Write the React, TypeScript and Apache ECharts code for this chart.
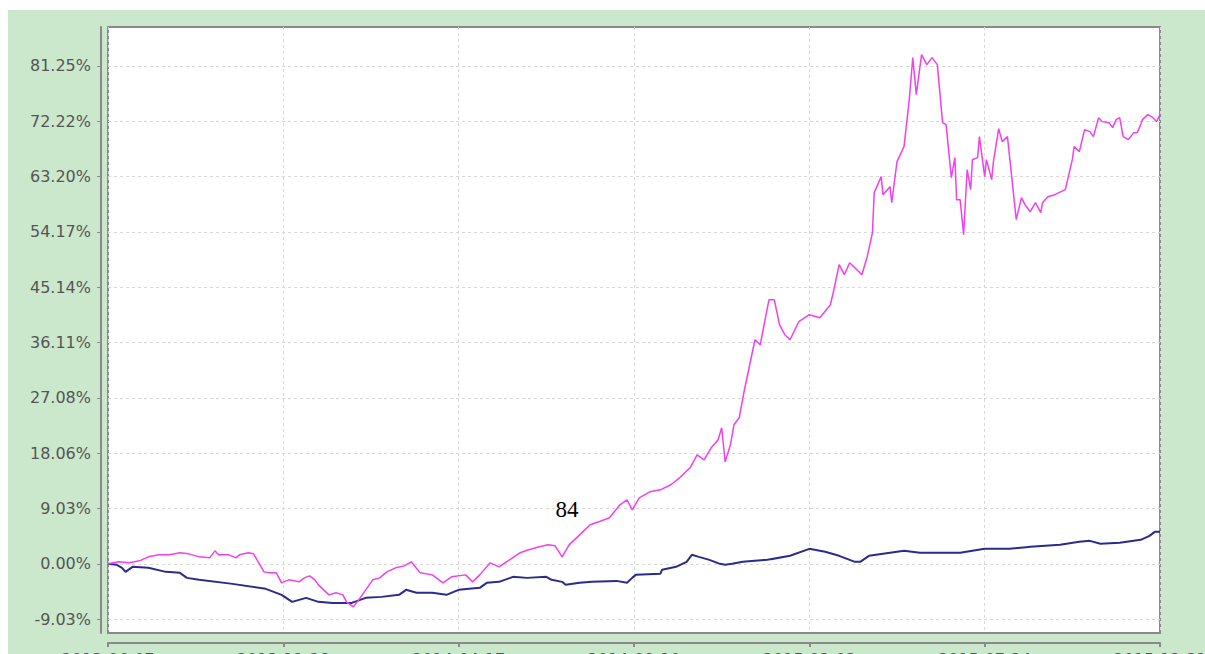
import React, { useEffect, useRef } from 'react';
import * as echarts from 'echarts';

// x axis: trading-day index, labelled every 100 days
const xTickLabels = ['2013-06-07', '2013-11-28', '2014-04-17', '2014-09-10', '2015-02-03', '2015-07-24', '2015-12-31'];
const yTicks = [-9.028, 0, 9.028, 18.056, 27.084, 36.112, 45.14, 54.168, 63.196, 72.224, 81.252];

// strategy cumulative return (%)
const strategyDays = [
  0, 6, 12, 18, 23, 29, 35, 41, 46, 52, 58, 61, 63, 69, 73, 75, 80, 83, 86, 89, 92, 96, 99, 103, 109, 112, 115, 118,
  120, 126, 130, 134, 136, 140, 143, 147, 151, 155, 159, 164, 169, 173, 178, 185, 191, 196, 204, 208, 212, 218, 223,
  229, 235, 240, 246, 251, 255, 259, 263, 269, 275, 280, 286, 292, 296, 299, 303, 309, 315, 321, 326, 332, 336, 340,
  344, 348, 350, 352, 355, 357, 360, 363, 366, 369, 372, 375, 377, 380, 383, 386, 389, 394, 400, 406, 412, 414, 417,
  420, 423, 430, 433, 436, 437, 441, 442, 446, 447, 450, 454, 457, 459, 461, 464, 467, 470, 473, 476, 478, 481, 483,
  484, 486, 488, 490, 492, 493, 496, 497, 500, 501, 504, 505, 508, 510, 513, 518, 521, 523, 526, 529, 532, 533, 536,
  540, 546, 550, 551, 554, 557, 560, 562, 565, 567, 571, 573, 575, 577, 579, 582, 585, 587, 589, 590, 593, 596, 598, 600
];
const strategyValues = [
  0.0, 0.33, 0.16, 0.49, 1.14, 1.47, 1.47, 1.8, 1.63, 1.14, 0.98, 2.12, 1.47, 1.47, 0.98, 1.47, 1.8, 1.63, 0.16, -1.31,
  -1.47, -1.47, -3.1, -2.61, -2.94, -2.29, -1.96, -2.61, -3.43, -5.06, -4.73, -5.06, -6.2, -7.02, -5.88, -4.24, -2.61,
  -2.29, -1.31, -0.65, -0.33, 0.33, -1.47, -1.8, -3.1, -2.12, -1.8, -2.94, -1.8, 0.16, -0.49, 0.65, 1.8, 2.29, 2.78,
  3.1, 2.94, 1.14, 3.1, 4.73, 6.37, 6.86, 7.51, 9.63, 10.45, 8.82, 10.77, 11.75, 12.08, 12.9, 14.04, 15.67, 17.79,
  16.98, 18.94, 20.24, 22.2, 16.65, 19.43, 22.69, 23.84, 28.41, 32.49, 36.57, 35.75, 40.16, 43.1, 43.1, 39.02, 37.39,
  36.57, 39.51, 40.65, 40.16, 42.28, 44.73, 48.81, 47.18, 49.14, 47.18, 50.12, 54.04, 60.57, 63.18, 60.24, 61.55,
  58.93, 65.63, 68.08, 75.75, 82.61, 76.57, 83.1, 81.46, 82.61, 81.46, 72.0, 71.67, 63.02, 66.28, 59.42, 59.42, 53.71,
  64.32, 61.06, 65.95, 66.28, 69.71, 63.18, 65.95, 62.69, 65.63, 71.01, 68.89, 69.71, 56.16, 59.75, 58.61, 57.46,
  58.93, 57.3, 58.93, 59.91, 60.24, 61.06, 65.95, 68.08, 67.26, 70.85, 70.52, 69.71, 72.81, 72.16, 71.99, 71.18,
  72.49, 72.81, 69.71, 69.22, 70.36, 70.36, 71.67, 72.49, 73.3, 72.81, 72.16, 73.3
];

// benchmark cumulative return (%)
const benchmarkDays = [
  0, 5, 8, 10, 14, 23, 33, 41, 45, 52, 71, 90, 99, 105, 113, 120, 128, 139, 147, 156, 166, 170, 176, 185, 193, 200,
  212, 216, 223, 231, 239, 250, 253, 259, 261, 269, 276, 290, 296, 299, 301, 315, 316, 324, 330, 333, 337, 343, 349,
  352, 356, 362, 376, 389, 400, 409, 417, 426, 429, 434, 446, 454, 463, 472, 486, 500, 514, 526, 543, 554, 560, 566,
  577, 589, 594, 597, 600
];
const benchmarkValues = [
  0, -0.16, -0.65, -1.31, -0.49, -0.65, -1.31, -1.47, -2.29, -2.61, -3.27, -4.08, -5.06, -6.2, -5.55, -6.2, -6.37,
  -6.37, -5.55, -5.39, -5.06, -4.24, -4.73, -4.73, -5.06, -4.24, -3.92, -3.1, -2.94, -2.12, -2.29, -2.12, -2.61,
  -2.94, -3.43, -3.1, -2.94, -2.78, -3.1, -2.29, -1.8, -1.63, -0.98, -0.49, 0.33, 1.47, 1.14, 0.65, 0.0, -0.16, 0.0,
  0.33, 0.65, 1.31, 2.45, 1.96, 1.31, 0.33, 0.33, 1.31, 1.8, 2.12, 1.8, 1.8, 1.8, 2.45, 2.45, 2.78, 3.1, 3.59, 3.75,
  3.27, 3.43, 3.92, 4.57, 5.22, 5.22
];

const annotationText = '84';

export default function App() {
  const ref = useRef<HTMLDivElement>(null);

  useEffect(() => {
    if (!ref.current) return;
    const chart = echarts.init(ref.current, undefined, { renderer: 'svg' });
    const labelFont = { fontFamily: 'DejaVu Sans', fontSize: 16, color: '#555' };
    const strategyData = strategyDays.map((d, i) => [d, strategyValues[i]]);
    const benchmarkData = benchmarkDays.map((d, i) => [d, benchmarkValues[i]]);

    chart.setOption({
      animation: false,
      backgroundColor: '#cce8cc',
      grid: {
        left: 100,
        top: 17,
        right: 45,
        bottom: 37,
        outerBoundsMode: 'none',
        containLabel: false,
        show: true,
        backgroundColor: '#ffffff',
        borderColor: '#8a8a8a',
        borderWidth: 2,
      },
      xAxis: {
        type: 'value',
        min: 0,
        max: 600,
        interval: 100,
        offset: 10,
        axisLine: { show: true, onZero: false, lineStyle: { color: '#8a8a8a', width: 2 } },
        axisTick: { show: true, length: 4, lineStyle: { color: '#8a8a8a', width: 2 } },
        axisLabel: {
          ...labelFont,
          margin: 8,
          formatter: (v: number) => xTickLabels[Math.round(v / 100)] ?? '',
        },
        splitLine: { show: true, lineStyle: { color: '#d8d8d8', type: [3, 3], width: 1 } },
      },
      yAxis: {
        type: 'value',
        min: -11.285,
        max: 87.6,
        offset: 7,
        axisLine: { show: true, onZero: false, lineStyle: { color: '#8a8a8a', width: 2 } },
        axisTick: { show: true, length: 4, customValues: yTicks, lineStyle: { color: '#8a8a8a', width: 1 } },
        axisLabel: {
          ...labelFont,
          margin: 10,
          customValues: yTicks,
          formatter: (v: number) => v.toFixed(2) + '%',
        },
        splitLine: { show: false },
      },
      graphic: [
        {
          type: 'text',
          x: 559,
          y: 499,
          style: {
            text: annotationText,
            font: '23px "Liberation Serif"',
            fill: '#000',
            align: 'center',
            verticalAlign: 'middle',
          },
          z: 100,
        },
      ],
      series: [
        {
          type: 'line',
          name: 'benchmark',
          data: benchmarkData,
          showSymbol: false,
          z: 2,
          lineStyle: { color: '#2b2b8c', width: 2 },
          markLine: {
            silent: true,
            symbol: 'none',
            z: 1,
            label: { show: false },
            lineStyle: { color: '#d8d8d8', type: [3, 3], width: 1 },
            data: yTicks.map((v) => ({ yAxis: v })),
          },
        },
        {
          type: 'line',
          name: 'strategy',
          data: strategyData,
          showSymbol: false,
          z: 3,
          lineStyle: { color: '#f040f0', width: 1.5 },
        },
      ],
    });

    return () => chart.dispose();
  }, []);

  return (
    <div
      ref={ref}
      style={{ position: 'fixed', left: 8, top: 10, width: 1197, height: 660 }}
    />
  );
}
